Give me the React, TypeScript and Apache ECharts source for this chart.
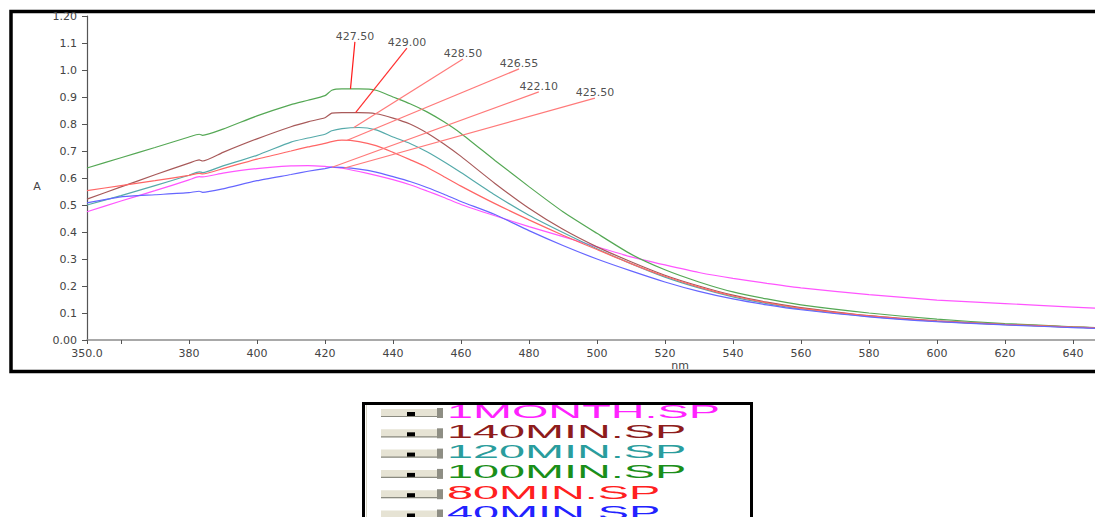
import React, { useEffect, useRef } from "react";
import * as echarts from "echarts";

// Wavelength grid (nm) shared by all spectra
const wavelengths = [350, 360, 370, 380, 383, 384, 390, 400, 410, 415, 420, 422, 425, 430, 435, 440, 445, 450, 455, 460, 470, 480, 490, 500, 510, 520, 530, 540, 550, 560, 580, 600, 620, 640, 646.5];

const abs1Month = [0.475, 0.515, 0.553, 0.593, 0.605, 0.604, 0.618, 0.635, 0.645, 0.646, 0.643, 0.64, 0.636, 0.624, 0.61, 0.594, 0.575, 0.552, 0.528, 0.502, 0.46, 0.42, 0.383, 0.345, 0.308, 0.278, 0.25, 0.228, 0.21, 0.193, 0.168, 0.148, 0.135, 0.122, 0.118];
const abs140 = [0.522, 0.567, 0.612, 0.655, 0.667, 0.663, 0.695, 0.745, 0.79, 0.808, 0.823, 0.84, 0.842, 0.842, 0.838, 0.822, 0.8, 0.767, 0.726, 0.68, 0.58, 0.488, 0.41, 0.345, 0.29, 0.24, 0.2, 0.166, 0.14, 0.12, 0.09, 0.071, 0.058, 0.048, 0.045];
const abs120 = [0.5, 0.535, 0.572, 0.61, 0.623, 0.62, 0.645, 0.684, 0.733, 0.748, 0.762, 0.775, 0.783, 0.787, 0.778, 0.752, 0.728, 0.697, 0.66, 0.62, 0.537, 0.462, 0.398, 0.338, 0.283, 0.233, 0.193, 0.16, 0.135, 0.115, 0.087, 0.069, 0.057, 0.047, 0.044];
const abs100 = [0.637, 0.675, 0.713, 0.752, 0.762, 0.758, 0.781, 0.83, 0.872, 0.888, 0.905, 0.925, 0.93, 0.93, 0.925, 0.9, 0.875, 0.845, 0.808, 0.765, 0.665, 0.568, 0.475, 0.395, 0.318, 0.26, 0.215, 0.178, 0.152, 0.13, 0.1, 0.077, 0.061, 0.049, 0.046];
const abs80 = [0.553, 0.572, 0.59, 0.61, 0.617, 0.615, 0.635, 0.67, 0.7, 0.715, 0.728, 0.735, 0.74, 0.735, 0.72, 0.695, 0.668, 0.64, 0.605, 0.57, 0.505, 0.445, 0.388, 0.335, 0.283, 0.236, 0.196, 0.163, 0.138, 0.117, 0.089, 0.07, 0.058, 0.048, 0.045];
const abs40 = [0.508, 0.53, 0.538, 0.546, 0.551, 0.547, 0.56, 0.59, 0.613, 0.625, 0.635, 0.64, 0.639, 0.633, 0.622, 0.605, 0.587, 0.565, 0.54, 0.513, 0.465, 0.405, 0.35, 0.3, 0.256, 0.215, 0.18, 0.152, 0.13, 0.112, 0.086, 0.068, 0.056, 0.046, 0.043];

const seriesNames = ["1MONTH.SP", "140MIN.SP", "120MIN.SP", "100MIN.SP", "80MIN.SP", "40MIN.SP"];
const seriesValues = [abs1Month, abs140, abs120, abs100, abs80, abs40];
const lineColors = ["#ff55ff", "#a85a5a", "#55aaaa", "#55a855", "#ff6666", "#6666ff"];
const legendColors = ["#ff22ff", "#8e1c1c", "#2a9d9d", "#1a8f1a", "#ff2020", "#2222ff"];

// Peak annotations
const peakLabels = ["427.50", "429.00", "428.50", "426.55", "422.10", "425.50"];
const peakNm = [427.5, 429.0, 428.5, 426.55, 422.1, 425.5];
const peakAbs = [0.93, 0.842, 0.787, 0.74, 0.64, 0.636];
const labelNm = [428.8, 444.1, 460.6, 477.1, 482.9, 499.4];
const labelAbs = [1.104, 1.081, 1.041, 1.004, 0.919, 0.896];
const leaderColors = ["#ff1a1a", "#ff3030", "#ff7a7a", "#ff7a7a", "#ff7a7a", "#ff7a7a"];

const xLabelTicks = [350, 380, 400, 420, 440, 460, 480, 500, 520, 540, 560, 580, 600, 620, 640];
const xMinorTicks = [350, 360, 380, 400, 420, 440, 460, 480, 500, 520, 540, 560, 580, 600, 620, 640];

const AXIS_FONT = "DejaVu Sans";

export default function App() {
  const ref = useRef<HTMLDivElement>(null);
  useEffect(() => {
    document.body.style.margin = "0";
    const chart = echarts.init(ref.current!, null, { renderer: "svg" });

    const lineSeries = seriesNames.map((name, i) => ({
      name,
      type: "line",
      data: wavelengths.map((w, k) => [w, seriesValues[i][k]]),
      showSymbol: false,
      smooth: 0.2,
      lineStyle: { color: lineColors[i], width: 1.2 },
      itemStyle: { color: lineColors[i] },
      silent: true,
      clip: true,
      z: 2,
    }));

    const legendEls: any[] = [];
    legendEls.push({
      type: "rect",
      shape: { x: 363.5, y: 403.5, width: 388, height: 140 },
      style: { fill: "#ffffff", stroke: "#000000", lineWidth: 3 },
      silent: true,
    });
    legendEls.push({
      type: "line",
      shape: { x1: 366.5, y1: 405, x2: 366.5, y2: 517 },
      style: { stroke: "#d8d6c8", lineWidth: 1 },
      silent: true,
    });
    seriesNames.forEach((name, i) => {
      const c = 411.5 + i * 20.3;
      legendEls.push({
        type: "rect",
        shape: { x: 381, y: c - 2.5, width: 56, height: 8 },
        style: { fill: "#e6e3d4" },
        silent: true,
      });
      legendEls.push({
        type: "line",
        shape: { x1: 381, y1: c + 5, x2: 437, y2: c + 5 },
        style: { stroke: "#8a8a80", lineWidth: 1.2 },
        silent: true,
      });
      legendEls.push({
        type: "rect",
        shape: { x: 407, y: c + 0.5, width: 8, height: 4 },
        style: { fill: "#000000" },
        silent: true,
      });
      legendEls.push({
        type: "rect",
        shape: { x: 437, y: c - 3.5, width: 6, height: 10 },
        style: { fill: "#8e8e84" },
        silent: true,
      });
      legendEls.push({
        type: "text",
        x: 447,
        y: c,
        scaleX: 2.6,
        style: {
          text: name,
          fill: legendColors[i],
          font: "18px 'Liberation Sans', Arial, sans-serif",
          align: "left",
          verticalAlign: "middle",
        },
        silent: true,
      });
    });

    const option: any = {
      animation: false,
      backgroundColor: "#ffffff",
      grid: { left: 87, top: 16, width: 1008, height: 324, containLabel: false },
      xAxis: {
        type: "value",
        min: 350,
        max: 646.5,
        axisLine: { lineStyle: { color: "#8c8c8c", width: 1.5 } },
        axisTick: { show: true, customValues: xMinorTicks, length: 4, lineStyle: { color: "#555" } },
        axisLabel: {
          customValues: xLabelTicks,
          formatter: (v: number) => (v === 350 ? "350.0" : String(v)),
          fontFamily: AXIS_FONT,
          fontSize: 11,
          color: "#444",
          margin: 8,
        },
        splitLine: { show: false },
      },
      yAxis: {
        type: "value",
        min: 0,
        max: 1.2,
        interval: 0.1,
        axisLine: { show: true, lineStyle: { color: "#555", width: 1.2 } },
        axisTick: { show: true, length: 5, lineStyle: { color: "#555" } },
        axisLabel: {
          formatter: (v: number) => {
            if (Math.abs(v) < 1e-9) return "0.00";
            if (Math.abs(v - 1.2) < 1e-9) return "1.20";
            return v.toFixed(1);
          },
          fontFamily: AXIS_FONT,
          fontSize: 11,
          color: "#444",
          margin: 10,
          showMinLabel: true,
          showMaxLabel: true,
        },
        splitLine: { show: false },
      },
      series: [
        ...lineSeries,
        {
          name: "peaks",
          type: "scatter",
          symbolSize: 0,
          silent: true,
          z: 5,
          data: labelNm.map((w, i) => ({ value: [w, labelAbs[i]], label: { formatter: peakLabels[i] } })),
          label: {
            show: true,
            position: "top",
            distance: 0,
            fontFamily: AXIS_FONT,
            fontSize: 11,
            color: "#222",
          },
          markLine: {
            silent: true,
            symbol: ["none", "none"],
            label: { show: false },
            animation: false,
            data: peakNm.map((w, i) => [
              { coord: [w, peakAbs[i]], lineStyle: { color: leaderColors[i], width: 1.2, type: "solid" } },
              { coord: [labelNm[i], labelAbs[i]] },
            ]),
          },
        },
      ],
      graphic: [
        {
          type: "rect",
          shape: { x: 11, y: 11.5, width: 1100, height: 360 },
          style: { fill: "none", stroke: "#000000", lineWidth: 3.5 },
          silent: true,
        },
        {
          type: "text",
          x: 37,
          y: 186,
          style: { text: "A", font: `11px '${AXIS_FONT}'`, fill: "#444", align: "center", verticalAlign: "middle" },
          silent: true,
        },
        {
          type: "text",
          x: 680,
          y: 365,
          style: { text: "nm", font: `11px '${AXIS_FONT}'`, fill: "#444", align: "center", verticalAlign: "middle" },
          silent: true,
        },
        ...legendEls,
      ],
    };
    chart.setOption(option);
    return () => chart.dispose();
  }, []);
  return <div ref={ref} style={{ width: 1095, height: 517 }} />;
}
